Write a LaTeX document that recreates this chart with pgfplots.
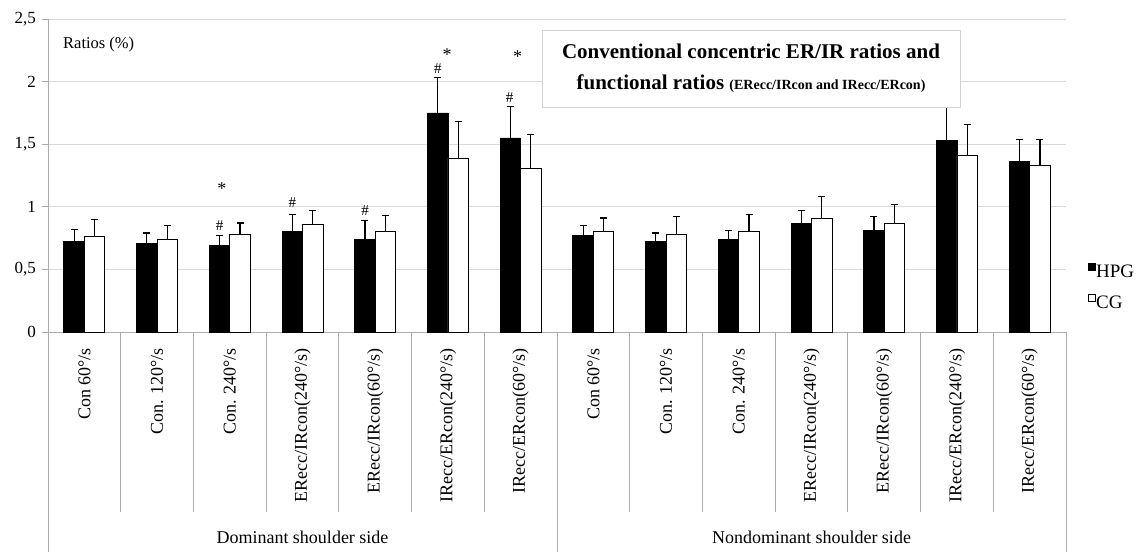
\documentclass[border=0pt]{standalone}
\usepackage{fontspec}
\setmainfont{Liberation Serif}
\usepackage{pgfplots}
\pgfplotsset{compat=1.18}
\usepackage{pgfplotstable}

\pgfplotstableread{
x y e
1 0.72 0.10
2 0.71 0.08
3 0.69 0.08
4 0.80 0.14
5 0.74 0.15
6 1.75 0.28
7 1.55 0.25
8 0.77 0.08
9 0.72 0.07
10 0.74 0.07
11 0.87 0.10
12 0.81 0.11
13 1.53 0.26
14 1.36 0.18
}\hpg

\pgfplotstableread{
x y e
1 0.76 0.14
2 0.74 0.11
3 0.78 0.09
4 0.86 0.11
5 0.80 0.13
6 1.39 0.29
7 1.31 0.27
8 0.80 0.11
9 0.78 0.14
10 0.80 0.14
11 0.91 0.17
12 0.87 0.15
13 1.41 0.25
14 1.33 0.21
}\cg

\pgfplotsset{
  sqlegend/.style={legend image code/.code={\draw[##1, line width=0.6pt] (0pt,2pt) rectangle (7pt,9pt);}}
}

\begin{document}
\begin{tikzpicture}
\begin{axis}[
  scale only axis, width=1018pt, height=313pt,
  xmin=0.5, xmax=14.5, ymin=0, ymax=2.5,
  axis x line=bottom, axis y line=left,
  axis line style={-, draw=gray!65, line width=0.8pt},
  ytick={0,0.5,1,1.5,2,2.5},
  ymajorgrids, grid style={gray!30, line width=0.9pt},
  tick align=outside, major tick length=6pt,
  xtick style={draw=none},
  ytick style={draw=gray!65, line width=0.8pt},
  /pgf/number format/.cd, use comma, assume math mode=true, /pgfplots/.cd,
  yticklabel style={font=\fontsize{17}{17}\selectfont, inner sep=0pt, xshift=-6pt},
  xtick={1,...,14},
  xticklabels={Con 60°/s, Con. 120°/s, Con. 240°/s, ERecc/IRcon(240°/s), ERecc/IRcon(60°/s), IRecc/ERcon(240°/s), IRecc/ERcon(60°/s),
               Con 60°/s, Con. 120°/s, Con. 240°/s, ERecc/IRcon(240°/s), ERecc/IRcon(60°/s), IRecc/ERcon(240°/s), IRecc/ERcon(60°/s)},
  xticklabel style={rotate=90, anchor=east, inner sep=0pt, font=\fontsize{18}{18}\selectfont},
  xticklabel shift=10pt,
  ybar=0pt, bar width=20.5pt,
  clip=false,
  legend style={at={(1.021,0.222)}, anchor=north west, draw=none, fill=none,
    font=\fontsize{19}{20}\selectfont, row sep=14pt, inner sep=0pt,
    nodes={inner sep=1pt}},
  legend cell align=left,
  error bars/y dir=plus, error bars/y explicit,
  error bars/error bar style={black, line width=1.2pt},
  error bars/error mark=-,
  error bars/error mark options={rotate=90, black, mark size=3.5pt, line width=1.2pt},
]
\addplot[fill=black, draw=black, line width=0.8pt, sqlegend] table[x=x, y=y, y error=e]{\hpg};
\addplot[fill=white, draw=black, line width=0.8pt, sqlegend] table[x=x, y=y, y error=e]{\cg};
\legend{HPG, CG}

% separators below axis
\pgfplotsinvokeforeach{1.5,2.5,3.5,4.5,5.5,6.5,8.5,9.5,10.5,11.5,12.5,13.5}{
  \draw[gray!65, line width=0.8pt] (axis cs:#1,0) -- ([yshift=-180pt]axis cs:#1,0);
}
\pgfplotsinvokeforeach{0.5,7.5,14.5}{
  \draw[gray!65, line width=0.8pt] (axis cs:#1,0) -- ([yshift=-220pt]axis cs:#1,0);
}
\node[anchor=base, font=\fontsize{18}{18}\selectfont] at ([yshift=-211pt]axis cs:4,0) {Dominant shoulder side};
\node[anchor=base, font=\fontsize{18}{18}\selectfont] at ([yshift=-211pt]axis cs:11,0) {Nondominant shoulder side};

% title box
\node[draw=gray!35, line width=0.9pt, fill=white, minimum width=418pt, minimum height=77pt, align=center, inner sep=0pt,
      font=\fontsize{21}{25}\selectfont\bfseries]
  at (rel axis cs:0.6906,0.8419)
  {Conventional concentric ER/IR ratios and\\[6pt]
   functional ratios {\fontsize{14}{14}\selectfont (ERecc/IRcon and IRecc/ERcon)}};

\node[anchor=west, font=\fontsize{16.5}{17}\selectfont, inner sep=0pt] at ([xshift=15pt]rel axis cs:0,0.92) {Ratios (\%)};

% significance markers
\node[font=\fontsize{15}{15}\selectfont, inner sep=0pt] at (axis cs:2.86,0.85) {\#};
\node[font=\fontsize{15}{15}\selectfont, inner sep=0pt] at (axis cs:3.86,1.03) {\#};
\node[font=\fontsize{15}{15}\selectfont, inner sep=0pt] at (axis cs:4.86,0.97) {\#};
\node[font=\fontsize{15}{15}\selectfont, inner sep=0pt] at (axis cs:5.86,2.10) {\#};
\node[font=\fontsize{15}{15}\selectfont, inner sep=0pt] at (axis cs:6.85,1.87) {\#};
\node[font=\fontsize{18}{18}\selectfont, inner sep=0pt, yshift=-3pt] at (axis cs:2.89,1.166) {*};
\node[font=\fontsize{18}{18}\selectfont, inner sep=0pt, yshift=-3pt] at (axis cs:5.99,2.236) {*};
\node[font=\fontsize{18}{18}\selectfont, inner sep=0pt, yshift=-3pt] at (axis cs:6.96,2.22) {*};
\end{axis}
\path (-48pt,-220pt) rectangle (1097pt,332pt);
\end{tikzpicture}
\end{document}
